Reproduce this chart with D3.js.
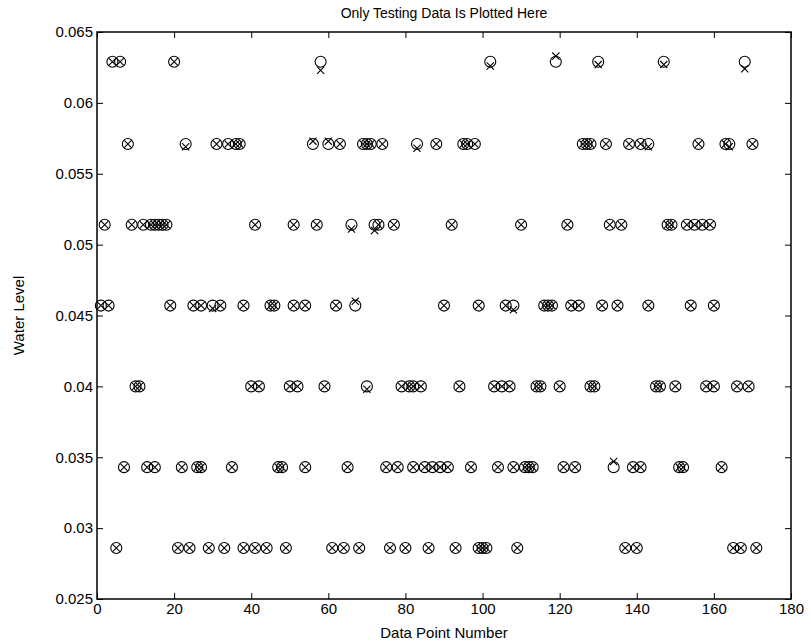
<!DOCTYPE html>
<html>
<head>
<meta charset="utf-8">
<script src="https://cdn.jsdelivr.net/npm/d3@7"></script>
<style>
  body { margin: 0; background: #fff; }
  svg { display: block; font-family: "Liberation Sans", Arial, sans-serif; }
</style>
</head>
<body>
<div id="chart"></div>
<script>
// water level classes (k/175) and the test point numbers sitting at each one
const levels = [0.0286, 0.0343, 0.0400, 0.0457, 0.0514, 0.0571, 0.0629];
const pointsAt0286 = [5, 21, 24, 29, 33, 38, 41, 44, 49, 61, 64, 68, 76, 80, 86, 93, 99, 100, 101, 109, 137, 140, 165, 167, 171];
const pointsAt0343 = [7, 13, 15, 22, 26, 27, 35, 47, 48, 54, 65, 75, 78, 82, 85, 87, 89, 91, 97, 104, 108, 111, 112, 113, 121, 124, 134, 139, 141, 151, 152, 162];
const pointsAt0400 = [10, 11, 40, 42, 50, 52, 59, 70, 79, 81, 82, 84, 94, 103, 105, 107, 114, 115, 120, 128, 129, 145, 146, 150, 158, 160, 166, 169];
const pointsAt0457 = [1, 3, 19, 25, 27, 30, 32, 38, 45, 46, 51, 54, 62, 67, 90, 99, 106, 108, 116, 117, 118, 123, 125, 131, 135, 143, 154, 160];
const pointsAt0514 = [2, 9, 12, 14, 15, 16, 17, 18, 41, 51, 57, 66, 72, 73, 77, 92, 110, 122, 133, 136, 148, 149, 153, 155, 157, 159];
const pointsAt0571 = [8, 23, 31, 34, 36, 37, 56, 60, 63, 69, 70, 71, 74, 83, 88, 95, 96, 98, 126, 127, 128, 132, 138, 141, 143, 156, 163, 164, 170];
const pointsAt0629 = [4, 6, 20, 58, 102, 119, 130, 147, 168];
// network outputs that miss their class: [point number, class, output]
const predictedOff = [
  [58, 0.0629, 0.0623], [102, 0.0629, 0.0626], [119, 0.0629, 0.0633], [130, 0.0629, 0.0627],
  [147, 0.0629, 0.0627], [168, 0.0629, 0.0624],
  [23, 0.0571, 0.0569], [56, 0.0571, 0.0573], [60, 0.0571, 0.0573], [83, 0.0571, 0.0568],
  [143, 0.0571, 0.0569], [164, 0.0571, 0.0569],
  [66, 0.0514, 0.0511], [72, 0.0514, 0.0510],
  [30, 0.0457, 0.0455], [67, 0.0457, 0.0460], [108, 0.0457, 0.0454],
  [70, 0.0400, 0.0398], [134, 0.0343, 0.0347]
];

const xTicks = d3.range(0, 181, 20);
const yTicks = [0.025, 0.03, 0.035, 0.04, 0.045, 0.05, 0.055, 0.06, 0.065];

const titleText = 'Only Testing Data Is Plotted Here';
const xLabel = 'Data Point Number';
const yLabel = 'Water Level';

// build the point table from the arrays above
const pointLists = [pointsAt0286, pointsAt0343, pointsAt0400, pointsAt0457, pointsAt0514, pointsAt0571, pointsAt0629];
let data = [];
pointLists.forEach((list, i) => {
  list.forEach(n => {
    let off = predictedOff.find(p => p[0] === n && p[1] === levels[i]);
    data.push({n: n, target: levels[i], output: off ? off[2] : levels[i]});
  });
});

let width = 811,
    height = 644,
    margin = {top: 32, right: 20, bottom: 45, left: 97};

let $svg = d3.select('#chart').append('svg')
  .attr('width', width)
  .attr('height', height);

let x = d3.scaleLinear().domain([0, 180]).range([margin.left, width - margin.right]);
let y = d3.scaleLinear().domain([0.025, 0.065]).range([height - margin.bottom, margin.top]);

const fmt = d => String(+d.toFixed(3));
const tickLen = 6;

// axes with inward ticks, box on all sides
$svg.append('g')
  .attr('transform', `translate(0,${y.range()[0]})`)
  .call(d3.axisBottom(x).tickValues(xTicks).tickSizeInner(-tickLen).tickSizeOuter(0).tickPadding(4))
  .call(g => g.select('.domain').remove());
$svg.append('g')
  .attr('transform', `translate(0,${y.range()[1]})`)
  .call(d3.axisTop(x).tickValues(xTicks).tickSizeInner(-tickLen).tickSizeOuter(0).tickFormat(''))
  .call(g => g.select('.domain').remove());
$svg.append('g')
  .attr('transform', `translate(${x.range()[0]},0)`)
  .call(d3.axisLeft(y).tickValues(yTicks).tickSizeInner(-tickLen).tickSizeOuter(0).tickFormat(fmt).tickPadding(4))
  .call(g => g.select('.domain').remove());
$svg.append('g')
  .attr('transform', `translate(${x.range()[1]},0)`)
  .call(d3.axisRight(y).tickValues(yTicks).tickSizeInner(-tickLen).tickSizeOuter(0).tickFormat(''))
  .call(g => g.select('.domain').remove());

$svg.selectAll('.tick text')
  .attr('fill', '#000')
  .style('font-size', '15px')
  .style('font-family', '"Liberation Sans", Arial, sans-serif');
$svg.selectAll('.tick line').attr('stroke', '#000');

$svg.append('rect')
  .attr('x', x.range()[0])
  .attr('y', y.range()[1])
  .attr('width', x.range()[1] - x.range()[0])
  .attr('height', y.range()[0] - y.range()[1])
  .attr('fill', 'none')
  .attr('stroke', '#000')
  .attr('stroke-width', 1.5);

// targets as circles
let $plot = $svg.append('g');
$plot.selectAll('circle')
  .data(data)
  .enter().append('circle')
  .attr('cx', d => x(d.n))
  .attr('cy', d => y(d.target))
  .attr('r', 5.5)
  .attr('fill', 'none')
  .attr('stroke', '#000')
  .attr('stroke-width', 1.1);

// outputs as x marks
const s = 3.6;
$plot.selectAll('path.cross')
  .data(data)
  .enter().append('path')
  .attr('class', 'cross')
  .attr('d', d => {
    let cx = x(d.n), cy = y(d.output);
    return `M${cx - s},${cy - s}L${cx + s},${cy + s}M${cx - s},${cy + s}L${cx + s},${cy - s}`;
  })
  .attr('stroke', '#000')
  .attr('stroke-width', 1.1);

// labels
$svg.append('text')
  .attr('x', (x.range()[0] + x.range()[1]) / 2)
  .attr('y', 18)
  .attr('text-anchor', 'middle')
  .style('font-size', '14px')
  .text(titleText);

$svg.append('text')
  .attr('x', (x.range()[0] + x.range()[1]) / 2)
  .attr('y', height - 6)
  .attr('text-anchor', 'middle')
  .style('font-size', '15px')
  .text(xLabel);

$svg.append('text')
  .attr('transform', `translate(24,${(y.range()[0] + y.range()[1]) / 2}) rotate(-90)`)
  .attr('text-anchor', 'middle')
  .style('font-size', '15px')
  .text(yLabel);
</script>
</body>
</html>
